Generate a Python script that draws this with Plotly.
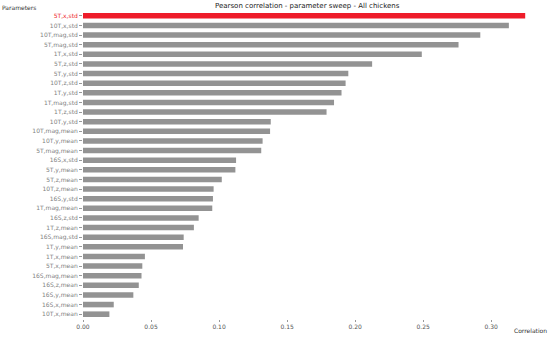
import plotly.graph_objects as go

params = ["5T,x,std", "10T,x,std", "10T,mag,std", "5T,mag,std", "1T,x,std", "5T,z,std",
          "5T,y,std", "10T,z,std", "1T,y,std", "1T,mag,std", "1T,z,std", "10T,y,std",
          "10T,mag,mean", "10T,y,mean", "5T,mag,mean", "16S,x,std", "5T,y,mean", "5T,z,mean",
          "10T,z,mean", "16S,y,std", "1T,mag,mean", "16S,z,std", "1T,z,mean", "16S,mag,std",
          "1T,y,mean", "1T,x,mean", "5T,x,mean", "16S,mag,mean", "16S,z,mean", "16S,y,mean",
          "16S,x,mean", "10T,x,mean"]
corr = [0.325, 0.313, 0.292, 0.276, 0.249, 0.2125, 0.195, 0.193, 0.190, 0.1845, 0.179,
        0.138, 0.1375, 0.132, 0.131, 0.1125, 0.112, 0.102, 0.096, 0.0955, 0.095, 0.085,
        0.0815, 0.074, 0.0735, 0.0455, 0.0436, 0.043, 0.041, 0.037, 0.0226, 0.0194]
x_ticks = [0.0, 0.05, 0.10, 0.15, 0.20, 0.25, 0.30]
x_tick_labels = ["0.00", "0.05", "0.10", "0.15", "0.20", "0.25", "0.30"]

RED = "#ee1c2a"
GRAY = "#939393"
colors = [RED if i == 0 else GRAY for i in range(len(params))]
ticktext = [f'<span style="color:{RED}">{p}</span>' if i == 0 else p for i, p in enumerate(params)]

L, R, T, B = 83, 18, 11, 20
W, H = 550, 339
pw = W - L - R
ph = H - T - B

fig = go.Figure(go.Bar(
    x=corr, y=list(range(len(params))), orientation="h",
    marker=dict(color=colors, line=dict(width=0)), width=0.58,
))

fig.update_layout(
    width=W, height=H,
    margin=dict(l=L, r=R, t=T, b=B, autoexpand=False),
    paper_bgcolor="white", plot_bgcolor="white",
    font=dict(family="DejaVu Sans", size=6, color="#777777"),
    showlegend=False,
    xaxis=dict(range=[0, 0.33], tickvals=x_ticks, ticktext=x_tick_labels,
               showgrid=False, zeroline=False, showline=False, automargin=False,
               ticks="outside", ticklen=2, tickcolor="#999999",
               tickfont=dict(size=6, color="#555555")),
    yaxis=dict(range=[len(params) - 0.5, -0.5], tickvals=list(range(len(params))),
               ticktext=ticktext, showgrid=False, zeroline=False, showline=False,
               automargin=False,
               ticks="outside", ticklen=3, tickcolor="#999999",
               tickfont=dict(size=6, color="#808080")),
    annotations=[
        dict(text="Pearson correlation - parameter sweep - All chickens",
             x=(307 - L) / pw, y=(H - 6 - B) / ph, xanchor="center", yanchor="middle",
             xref="paper", yref="paper", showarrow=False, font=dict(size=7, color="#222222")),
        dict(text="Parameters", x=(0 - L) / pw, y=(H - 7 - B) / ph, xanchor="left", yanchor="middle",
             xref="paper", yref="paper", showarrow=False,
             font=dict(size=6, color="#333333")),
        dict(text="Correlation", x=(549 - L) / pw, y=(H - 331 - B) / ph, xanchor="right", yanchor="middle",
             xref="paper", yref="paper", showarrow=False,
             font=dict(size=6, color="#333333")),
    ],
)

fig.write_html("out.html", config={"displayModeBar": False},
               post_script="document.body.style.margin='0';document.body.style.overflow='hidden';")
